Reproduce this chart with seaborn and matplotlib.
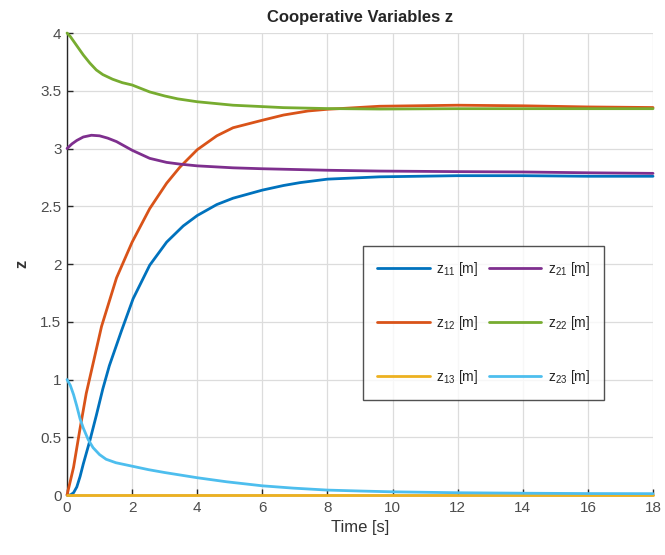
import pandas as pd
import numpy as np
import matplotlib.pyplot as plt
import seaborn as sns
from matplotlib.lines import Line2D

# values (time in s, z in m)
t_z11 = [0, 0.1, 0.2, 0.3, 0.4, 0.5, 0.7, 0.9, 1.1, 1.3, 1.67, 2.03, 2.54, 3.06, 3.57, 4.0, 4.6, 5.1, 6.0, 6.65, 7.16, 8.0, 9.6, 12.0, 14.0, 16.0, 18.0]
z11 = [0, 0.0, 0.02, 0.07, 0.16, 0.27, 0.47, 0.69, 0.92, 1.12, 1.42, 1.7, 1.99, 2.19, 2.33, 2.42, 2.515, 2.57, 2.64, 2.68, 2.705, 2.735, 2.755, 2.765, 2.765, 2.76, 2.76]

t_z12 = [0, 0.1, 0.2, 0.39, 0.59, 0.85, 1.06, 1.52, 2.0, 2.54, 3.06, 3.47, 4.0, 4.6, 5.1, 6.0, 6.65, 7.4, 8.0, 8.4, 9.6, 12.0, 14.0, 16.0, 18.0]
z12 = [0, 0.12, 0.24, 0.56, 0.88, 1.2, 1.46, 1.88, 2.19, 2.48, 2.7, 2.84, 2.99, 3.11, 3.18, 3.245, 3.29, 3.325, 3.34, 3.346, 3.366, 3.375, 3.37, 3.36, 3.355]

t_z13 = [0, 18.0]
z13 = [0, 0]

t_z21 = [0, 0.15, 0.3, 0.5, 0.75, 1.0, 1.25, 1.52, 2.0, 2.54, 3.06, 3.47, 4.0, 5.1, 6.0, 8.0, 9.6, 12.0, 14.0, 16.0, 18.0]
z21 = [3.0, 3.04, 3.07, 3.1, 3.115, 3.11, 3.09, 3.06, 2.985, 2.915, 2.88, 2.865, 2.85, 2.833, 2.825, 2.812, 2.805, 2.8, 2.797, 2.79, 2.785]

t_z22 = [0, 0.1, 0.2, 0.3, 0.5, 0.7, 0.9, 1.1, 1.4, 1.7, 2.0, 2.54, 3.0, 3.4, 4.0, 5.1, 6.0, 6.65, 8.0, 9.6, 12.0, 14.0, 16.0, 18.0]
z22 = [4.0, 3.97, 3.93, 3.89, 3.81, 3.74, 3.68, 3.64, 3.6, 3.57, 3.55, 3.49, 3.455, 3.43, 3.405, 3.375, 3.363, 3.354, 3.346, 3.342, 3.345, 3.345, 3.345, 3.345]

t_z23 = [0, 0.1, 0.2, 0.3, 0.4, 0.5, 0.65, 0.8, 1.0, 1.2, 1.5, 2.0, 2.5, 3.0, 4.0, 4.9, 6.0, 6.95, 8.0, 9.0, 10.0, 12.0, 14.0, 16.0, 18.0]
z23 = [1.0, 0.95, 0.87, 0.77, 0.66, 0.58, 0.48, 0.41, 0.35, 0.31, 0.28, 0.25, 0.22, 0.195, 0.15, 0.115, 0.08, 0.06, 0.043, 0.035, 0.028, 0.02, 0.016, 0.013, 0.012]

labels = ['z$_{11}$ [m]', 'z$_{12}$ [m]', 'z$_{13}$ [m]', 'z$_{21}$ [m]', 'z$_{22}$ [m]', 'z$_{23}$ [m]']
colors = ['#0072BD', '#D95319', '#EDB120', '#7E2F8E', '#77AC30', '#4DBEEE']

series = [(t_z11, z11), (t_z12, z12), (t_z13, z13), (t_z21, z21), (t_z22, z22), (t_z23, z23)]
frames = []
for lab, (t, z) in zip(labels, series):
    frames.append(pd.DataFrame({'time': t, 'z': z, 'var': lab}))
df = pd.concat(frames, ignore_index=True)

sns.set_style('whitegrid')
plt.rcParams['font.family'] = ['Liberation Sans', 'DejaVu Sans']
plt.rcParams['mathtext.fontset'] = 'custom'
plt.rcParams['mathtext.rm'] = 'Liberation Sans'

fig = plt.figure(figsize=(6.65, 5.55), dpi=100)
ax = fig.add_axes([0.1008, 0.108, 0.8812, 0.8325])

sns.lineplot(data=df, x='time', y='z', hue='var', hue_order=labels,
             palette=colors, linewidth=2, ax=ax, legend=False)
for line in ax.get_lines():
    line.set_clip_on(False)
    line.set_zorder(3)

ax.set_xlim(0, 18)
ax.set_ylim(0, 4)
ax.set_xticks(np.arange(0, 19, 2))
ax.set_yticks(np.arange(0, 4.01, 0.5))
ax.set_yticklabels(['0', '0.5', '1', '1.5', '2', '2.5', '3', '3.5', '4'])
ax.grid(True, color='#dcdcdc', linewidth=0.9)
for s in ['top', 'right']:
    ax.spines[s].set_visible(False)
for s in ['left', 'bottom']:
    ax.spines[s].set_color('#262626')
    ax.spines[s].set_linewidth(1.0)
ax.tick_params(direction='in', length=4, width=1, colors='#262626',
               labelsize=11, labelcolor='#4d4d4d', bottom=True, left=True, pad=4)

ax.set_title('Cooperative Variables z', fontsize=12, fontweight='bold', pad=8)
ax.set_xlabel('Time [s]', fontsize=12, color='#333333', labelpad=4)
ax.set_ylabel('z', fontsize=12, fontweight='bold', color='#333333', labelpad=8)

handles = [Line2D([], [], color=c, linewidth=2) for c in colors]
leg = ax.legend(handles, labels, ncol=2, loc='upper left',
                bbox_to_anchor=(0.505, 0.539),
                fontsize=10, handlelength=3.8, labelspacing=2.6,
                columnspacing=0.75, handletextpad=0.45, borderpad=1.0,
                borderaxespad=0, frameon=True, fancybox=False, edgecolor='#262626')
leg.get_frame().set_linewidth(1.0)

plt.savefig('out.png', dpi=100)
